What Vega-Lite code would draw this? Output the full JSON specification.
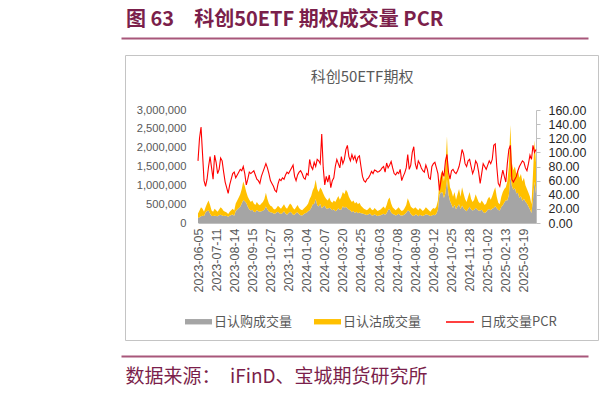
{
  "$schema": "https://vega.github.io/schema/vega-lite/v6.json",
  "autosize": "none",
  "width": 473,
  "height": 285,
  "padding": {"left": 125, "top": 55, "right": 12, "bottom": 53},
  "background": "#FFFFFF",
  "title": {"text": "图 63\u3000科创50ETF 期权成交量 PCR", "anchor": "start", "frame": "group", "offset": 8, "dx": 1, "font": "Noto Sans CJK SC", "fontSize": 20, "fontWeight": "bold", "color": "#7B1F4B"},
  "config": {
    "view": {"stroke": "#C4C4C4", "strokeWidth": 1},
    "axis": {"grid": false, "labelFont": "Liberation Sans", "titleFont": "Noto Sans CJK SC"},
    "legend": {"labelFont": "Noto Sans CJK SC", "labelFontSize": 13, "labelColor": "#595959"}
  },
  "data": {"values": [
{"d":"2023-06-05","c":133000,"p":117000,"r":88},
{"d":"2023-06-07","c":150000,"p":180000,"r":120},
{"d":"2023-06-09","c":178000,"p":242000,"r":136},
{"d":"2023-06-13","c":192000,"p":188000,"r":98},
{"d":"2023-06-15","c":188000,"p":112000,"r":60},
{"d":"2023-06-19","c":276000,"p":144000,"r":52},
{"d":"2023-06-21","c":321000,"p":199000,"r":62},
{"d":"2023-06-27","c":333000,"p":267000,"r":80},
{"d":"2023-06-29","c":247000,"p":233000,"r":94},
{"d":"2023-07-03","c":185000,"p":145000,"r":78},
{"d":"2023-07-05","c":185000,"p":115000,"r":62},
{"d":"2023-07-07","c":194000,"p":186000,"r":96},
{"d":"2023-07-11","c":183000,"p":157000,"r":86},
{"d":"2023-07-13","c":176000,"p":124000,"r":70},
{"d":"2023-07-17","c":205000,"p":155000,"r":76},
{"d":"2023-07-19","c":219000,"p":201000,"r":92},
{"d":"2023-07-21","c":202000,"p":178000,"r":88},
{"d":"2023-07-25","c":186000,"p":134000,"r":72},
{"d":"2023-07-27","c":190000,"p":110000,"r":58},
{"d":"2023-07-31","c":187000,"p":93000,"r":50},
{"d":"2023-08-02","c":169000,"p":71000,"r":42},
{"d":"2023-08-04","c":195000,"p":105000,"r":54},
{"d":"2023-08-08","c":210000,"p":130000,"r":62},
{"d":"2023-08-10","c":224000,"p":156000,"r":70},
{"d":"2023-08-14","c":192000,"p":138000,"r":72},
{"d":"2023-08-16","c":317000,"p":203000,"r":64},
{"d":"2023-08-18","c":357000,"p":243000,"r":68},
{"d":"2023-08-22","c":395000,"p":285000,"r":72},
{"d":"2023-08-24","c":432000,"p":328000,"r":76},
{"d":"2023-08-28","c":517000,"p":383000,"r":74},
{"d":"2023-08-30","c":611000,"p":489000,"r":80},
{"d":"2023-09-01","c":576000,"p":404000,"r":70},
{"d":"2023-09-05","c":532000,"p":288000,"r":54},
{"d":"2023-09-07","c":432000,"p":268000,"r":62},
{"d":"2023-09-11","c":360000,"p":260000,"r":72},
{"d":"2023-09-13","c":329000,"p":231000,"r":70},
{"d":"2023-09-15","c":349000,"p":251000,"r":72},
{"d":"2023-09-19","c":299000,"p":221000,"r":74},
{"d":"2023-09-21","c":286000,"p":194000,"r":68},
{"d":"2023-09-25","c":346000,"p":214000,"r":62},
{"d":"2023-09-27","c":313000,"p":187000,"r":60},
{"d":"2023-10-09","c":301000,"p":169000,"r":56},
{"d":"2023-10-11","c":313000,"p":207000,"r":66},
{"d":"2023-10-13","c":326000,"p":234000,"r":72},
{"d":"2023-10-17","c":360000,"p":280000,"r":78},
{"d":"2023-10-19","c":435000,"p":365000,"r":84},
{"d":"2023-10-23","c":360000,"p":280000,"r":78},
{"d":"2023-10-25","c":306000,"p":214000,"r":70},
{"d":"2023-10-27","c":288000,"p":172000,"r":60},
{"d":"2023-10-31","c":282000,"p":158000,"r":56},
{"d":"2023-11-02","c":250000,"p":130000,"r":52},
{"d":"2023-11-06","c":247000,"p":113000,"r":46},
{"d":"2023-11-08","c":278000,"p":122000,"r":44},
{"d":"2023-11-10","c":297000,"p":163000,"r":55},
{"d":"2023-11-14","c":259000,"p":161000,"r":62},
{"d":"2023-11-16","c":238000,"p":142000,"r":60},
{"d":"2023-11-20","c":268000,"p":172000,"r":64},
{"d":"2023-11-22","c":309000,"p":191000,"r":62},
{"d":"2023-11-24","c":250000,"p":170000,"r":68},
{"d":"2023-11-28","c":221000,"p":159000,"r":72},
{"d":"2023-11-30","c":265000,"p":185000,"r":70},
{"d":"2023-12-04","c":299000,"p":221000,"r":74},
{"d":"2023-12-06","c":270000,"p":210000,"r":78},
{"d":"2023-12-08","c":220000,"p":180000,"r":82},
{"d":"2023-12-12","c":217000,"p":143000,"r":66},
{"d":"2023-12-14","c":263000,"p":157000,"r":60},
{"d":"2023-12-18","c":286000,"p":194000,"r":68},
{"d":"2023-12-20","c":233000,"p":167000,"r":72},
{"d":"2023-12-22","c":207000,"p":153000,"r":74},
{"d":"2023-12-26","c":200000,"p":140000,"r":70},
{"d":"2023-12-28","c":232000,"p":148000,"r":64},
{"d":"2024-01-02","c":259000,"p":161000,"r":62},
{"d":"2024-01-04","c":271000,"p":189000,"r":70},
{"d":"2024-01-08","c":310000,"p":210000,"r":68},
{"d":"2024-01-10","c":337000,"p":303000,"r":90},
{"d":"2024-01-12","c":400000,"p":320000,"r":80},
{"d":"2024-01-16","c":489000,"p":371000,"r":76},
{"d":"2024-01-18","c":511000,"p":439000,"r":86},
{"d":"2024-01-22","c":639000,"p":511000,"r":80},
{"d":"2024-01-24","c":474000,"p":426000,"r":90},
{"d":"2024-01-26","c":436000,"p":384000,"r":88},
{"d":"2024-01-30","c":511000,"p":429000,"r":84},
{"d":"2024-02-01","c":389000,"p":491000,"r":126},
{"d":"2024-02-05","c":438000,"p":342000,"r":78},
{"d":"2024-02-07","c":455000,"p":245000,"r":54},
{"d":"2024-02-19","c":386000,"p":254000,"r":66},
{"d":"2024-02-21","c":380000,"p":220000,"r":58},
{"d":"2024-02-23","c":405000,"p":275000,"r":68},
{"d":"2024-02-27","c":387000,"p":193000,"r":50},
{"d":"2024-02-29","c":338000,"p":202000,"r":60},
{"d":"2024-03-04","c":366000,"p":234000,"r":64},
{"d":"2024-03-06","c":311000,"p":249000,"r":80},
{"d":"2024-03-08","c":337000,"p":303000,"r":90},
{"d":"2024-03-12","c":391000,"p":329000,"r":84},
{"d":"2024-03-14","c":348000,"p":272000,"r":78},
{"d":"2024-03-18","c":361000,"p":339000,"r":94},
{"d":"2024-03-20","c":446000,"p":374000,"r":84},
{"d":"2024-03-22","c":400000,"p":360000,"r":90},
{"d":"2024-03-26","c":431000,"p":449000,"r":104},
{"d":"2024-03-28","c":390000,"p":430000,"r":110},
{"d":"2024-04-01","c":361000,"p":339000,"r":94},
{"d":"2024-04-03","c":330000,"p":290000,"r":88},
{"d":"2024-04-09","c":284000,"p":276000,"r":97},
{"d":"2024-04-11","c":316000,"p":284000,"r":90},
{"d":"2024-04-15","c":267000,"p":253000,"r":95},
{"d":"2024-04-17","c":301000,"p":259000,"r":86},
{"d":"2024-04-19","c":259000,"p":241000,"r":93},
{"d":"2024-04-23","c":277000,"p":263000,"r":95},
{"d":"2024-04-25","c":256000,"p":204000,"r":80},
{"d":"2024-04-29","c":253000,"p":167000,"r":66},
{"d":"2024-05-06","c":238000,"p":142000,"r":60},
{"d":"2024-05-08","c":228000,"p":132000,"r":58},
{"d":"2024-05-10","c":210000,"p":130000,"r":62},
{"d":"2024-05-14","c":232000,"p":148000,"r":64},
{"d":"2024-05-16","c":250000,"p":170000,"r":68},
{"d":"2024-05-20","c":208000,"p":152000,"r":73},
{"d":"2024-05-22","c":200000,"p":140000,"r":70},
{"d":"2024-05-24","c":229000,"p":171000,"r":75},
{"d":"2024-05-28","c":207000,"p":153000,"r":74},
{"d":"2024-05-30","c":186000,"p":134000,"r":72},
{"d":"2024-06-03","c":197000,"p":143000,"r":73},
{"d":"2024-06-05","c":206000,"p":154000,"r":75},
{"d":"2024-06-07","c":225000,"p":175000,"r":78},
{"d":"2024-06-12","c":244000,"p":196000,"r":80},
{"d":"2024-06-14","c":221000,"p":159000,"r":72},
{"d":"2024-06-18","c":259000,"p":221000,"r":85},
{"d":"2024-06-20","c":348000,"p":272000,"r":78},
{"d":"2024-06-24","c":374000,"p":306000,"r":82},
{"d":"2024-06-26","c":278000,"p":242000,"r":87},
{"d":"2024-06-28","c":236000,"p":184000,"r":78},
{"d":"2024-07-02","c":224000,"p":156000,"r":70},
{"d":"2024-07-04","c":202000,"p":138000,"r":68},
{"d":"2024-07-08","c":221000,"p":159000,"r":72},
{"d":"2024-07-10","c":247000,"p":173000,"r":70},
{"d":"2024-07-12","c":205000,"p":155000,"r":76},
{"d":"2024-07-16","c":200000,"p":120000,"r":60},
{"d":"2024-07-18","c":205000,"p":135000,"r":66},
{"d":"2024-07-22","c":234000,"p":166000,"r":71},
{"d":"2024-07-24","c":270000,"p":210000,"r":78},
{"d":"2024-07-26","c":335000,"p":325000,"r":97},
{"d":"2024-07-30","c":318000,"p":242000,"r":76},
{"d":"2024-08-01","c":242000,"p":198000,"r":82},
{"d":"2024-08-05","c":200000,"p":200000,"r":100},
{"d":"2024-08-07","c":183000,"p":197000,"r":108},
{"d":"2024-08-09","c":228000,"p":192000,"r":84},
{"d":"2024-08-13","c":216000,"p":164000,"r":76},
{"d":"2024-08-15","c":181000,"p":159000,"r":88},
{"d":"2024-08-19","c":217000,"p":183000,"r":84},
{"d":"2024-08-21","c":202000,"p":158000,"r":78},
{"d":"2024-08-23","c":184000,"p":136000,"r":74},
{"d":"2024-08-27","c":209000,"p":151000,"r":72},
{"d":"2024-08-29","c":231000,"p":189000,"r":82},
{"d":"2024-09-02","c":216000,"p":164000,"r":76},
{"d":"2024-09-04","c":207000,"p":133000,"r":64},
{"d":"2024-09-06","c":185000,"p":115000,"r":62},
{"d":"2024-09-10","c":200000,"p":160000,"r":80},
{"d":"2024-09-12","c":217000,"p":183000,"r":84},
{"d":"2024-09-18","c":204000,"p":176000,"r":86},
{"d":"2024-09-20","c":247000,"p":193000,"r":78},
{"d":"2024-09-24","c":353000,"p":247000,"r":70},
{"d":"2024-09-26","c":753000,"p":347000,"r":46},
{"d":"2024-09-30","c":813000,"p":487000,"r":60},
{"d":"2024-10-09","c":814000,"p":586000,"r":72},
{"d":"2024-10-11","c":663000,"p":437000,"r":66},
{"d":"2024-10-15","c":798000,"p":702000,"r":88},
{"d":"2024-10-17","c":1168000,"p":1132000,"r":97},
{"d":"2024-10-21","c":756000,"p":544000,"r":72},
{"d":"2024-10-23","c":586000,"p":364000,"r":62},
{"d":"2024-10-25","c":489000,"p":361000,"r":74},
{"d":"2024-10-29","c":398000,"p":302000,"r":76},
{"d":"2024-10-31","c":477000,"p":343000,"r":72},
{"d":"2024-11-04","c":365000,"p":255000,"r":70},
{"d":"2024-11-06","c":437000,"p":323000,"r":74},
{"d":"2024-11-08","c":500000,"p":400000,"r":80},
{"d":"2024-11-12","c":368000,"p":332000,"r":90},
{"d":"2024-11-14","c":466000,"p":484000,"r":104},
{"d":"2024-11-18","c":394000,"p":386000,"r":98},
{"d":"2024-11-20","c":348000,"p":292000,"r":84},
{"d":"2024-11-22","c":311000,"p":249000,"r":80},
{"d":"2024-11-26","c":372000,"p":328000,"r":88},
{"d":"2024-11-28","c":432000,"p":388000,"r":90},
{"d":"2024-12-02","c":356000,"p":284000,"r":80},
{"d":"2024-12-04","c":329000,"p":231000,"r":70},
{"d":"2024-12-06","c":352000,"p":268000,"r":76},
{"d":"2024-12-10","c":404000,"p":356000,"r":88},
{"d":"2024-12-12","c":359000,"p":301000,"r":84},
{"d":"2024-12-16","c":326000,"p":234000,"r":72},
{"d":"2024-12-18","c":333000,"p":187000,"r":56},
{"d":"2024-12-20","c":353000,"p":247000,"r":70},
{"d":"2024-12-24","c":293000,"p":247000,"r":84},
{"d":"2024-12-26","c":267000,"p":213000,"r":80},
{"d":"2024-12-30","c":295000,"p":225000,"r":76},
{"d":"2025-01-02","c":352000,"p":288000,"r":82},
{"d":"2025-01-06","c":372000,"p":328000,"r":88},
{"d":"2025-01-08","c":337000,"p":283000,"r":84},
{"d":"2025-01-10","c":379000,"p":341000,"r":90},
{"d":"2025-01-14","c":400000,"p":440000,"r":110},
{"d":"2025-01-16","c":448000,"p":502000,"r":112},
{"d":"2025-01-20","c":389000,"p":311000,"r":80},
{"d":"2025-01-22","c":346000,"p":194000,"r":56},
{"d":"2025-01-24","c":329000,"p":171000,"r":52},
{"d":"2025-02-05","c":427000,"p":273000,"r":64},
{"d":"2025-02-07","c":469000,"p":351000,"r":75},
{"d":"2025-02-11","c":542000,"p":358000,"r":66},
{"d":"2025-02-13","c":601000,"p":349000,"r":58},
{"d":"2025-02-17","c":598000,"p":502000,"r":84},
{"d":"2025-02-19","c":735000,"p":765000,"r":104},
{"d":"2025-02-21","c":1238000,"p":1362000,"r":110},
{"d":"2025-02-25","c":988000,"p":612000,"r":62},
{"d":"2025-02-27","c":886000,"p":514000,"r":58},
{"d":"2025-03-03","c":926000,"p":574000,"r":62},
{"d":"2025-03-05","c":783000,"p":517000,"r":66},
{"d":"2025-03-07","c":805000,"p":595000,"r":74},
{"d":"2025-03-11","c":667000,"p":533000,"r":80},
{"d":"2025-03-13","c":707000,"p":593000,"r":84},
{"d":"2025-03-17","c":585000,"p":515000,"r":88},
{"d":"2025-03-19","c":645000,"p":555000,"r":86},
{"d":"2025-03-21","c":562000,"p":438000,"r":78},
{"d":"2025-03-25","c":517000,"p":383000,"r":74},
{"d":"2025-03-27","c":435000,"p":365000,"r":84},
{"d":"2025-03-31","c":357000,"p":343000,"r":96},
{"d":"2025-04-02","c":263000,"p":237000,"r":90},
{"d":"2025-04-07","c":619000,"p":681000,"r":110},
{"d":"2025-04-09","c":1100000,"p":1100000,"r":100},
{"d":"2025-04-11","c":784000,"p":816000,"r":104}
  ]},
  "layer": [
    {
      "transform": [{"fold": ["c", "p"], "as": ["s", "v"]}],
      "mark": {"type": "area", "interpolate": "linear", "opacity": 1},
      "encoding": {
        "x": {"field": "d", "type": "ordinal", "scale": {"type": "point", "range": [73, 411], "padding": 0},
          "axis": {"orient": "bottom", "offset": -117, "title": null, "ticks": false, "domainColor": "#BFBFBF", "labelAngle": -90, "labelFontSize": 12.5, "labelColor": "#595959", "labelPadding": 5,
            "values": ["2023-06-05","2023-07-11","2023-08-14","2023-09-15","2023-10-27","2023-11-30","2024-01-04","2024-02-07","2024-03-20","2024-04-25","2024-06-03","2024-07-08","2024-08-09","2024-09-12","2024-10-25","2024-11-28","2025-01-02","2025-02-13","2025-03-19"]}},
        "y": {"field": "v", "type": "quantitative", "stack": "zero", "scale": {"domain": [0, 3000000], "range": [168, 55], "nice": false},
          "axis": {"orient": "left", "offset": -73, "title": null, "domain": false, "ticks": false, "labelPadding": 12, "labelFontSize": 11.2, "labelColor": "#595959", "format": ",d", "values": [0, 500000, 1000000, 1500000, 2000000, 2500000, 3000000]}},
        "color": {"field": "s", "type": "nominal", "scale": {"domain": ["c", "p"], "range": ["#A5A5A5", "#FFC000"]},
          "legend": {"orient": "none", "legendX": 60, "legendY": 253, "direction": "horizontal", "title": null, "symbolType": "M-1,-0.2H1V0.2H-1Z", "symbolSize": 729, "symbolStrokeWidth": 0, "columnPadding": 21, "labelOffset": 2,
            "labelExpr": "datum.value == 'c' ? '日认购成交量' : '日认沽成交量'"}},
        "order": {"field": "s", "type": "nominal", "sort": "ascending"}
      }
    },
    {
      "mark": {"type": "line", "strokeWidth": 1.1},
      "encoding": {
        "x": {"field": "d", "type": "ordinal", "scale": {"type": "point", "range": [73, 411], "padding": 0}, "axis": null},
        "y": {"field": "r", "type": "quantitative", "scale": {"domain": [0, 160], "range": [168, 55], "nice": false},
          "axis": {"orient": "right", "offset": -62, "title": null, "domainColor": "#BFBFBF", "tickColor": "#BFBFBF", "tickSize": 4, "labelPadding": 8, "labelFontSize": 12.4, "labelColor": "#262626", "format": ".2f", "values": [0, 20, 40, 60, 80, 100, 120, 140, 160]}},
        "stroke": {"datum": "日成交量PCR", "type": "nominal", "scale": {"range": ["#FF0000"]},
          "legend": {"orient": "none", "legendX": 320, "legendY": 252, "title": null, "symbolType": "stroke", "symbolSize": 784, "symbolStrokeWidth": 1.5, "labelOffset": 5}}
      }
    },
    {
      "data": {"values": [{"h": 0}]},
      "mark": {"type": "point", "opacity": 0},
      "encoding": {
        "x": {"field": "h", "type": "quantitative", "scale": {"domain": [0, 1], "range": [-4, 463]},
          "axis": {"orient": "top", "offset": 17, "labels": false, "ticks": false, "domainColor": "#A8577A", "domainWidth": 2,
            "title": "科创50ETF期权", "titleX": 236.5, "titleY": 38, "titleAlign": "center", "titleBaseline": "middle", "titleFont": "Noto Sans CJK SC", "titleFontSize": 15, "titleFontWeight": "normal", "titleColor": "#595959"}}
      }
    },
    {
      "data": {"values": [{"h": 0}]},
      "mark": {"type": "point", "opacity": 0},
      "encoding": {
        "x": {"field": "h", "type": "quantitative", "scale": {"domain": [0, 1], "range": [-4, 463]},
          "axis": {"orient": "bottom", "offset": 16, "labels": false, "ticks": false, "domainColor": "#A8577A", "domainWidth": 2,
            "title": "数据来源：\u3000iFinD、宝城期货研究所", "titleX": 0, "titleY": 20, "titleAlign": "left", "titleBaseline": "middle", "titleFont": "Noto Sans CJK SC", "titleFontSize": 19, "titleFontWeight": "normal", "titleColor": "#7B1F4B"}}
      }
    }
  ],
  "resolve": {"scale": {"x": "independent", "y": "independent"}, "axis": {"x": "independent", "y": "independent"}}
}
